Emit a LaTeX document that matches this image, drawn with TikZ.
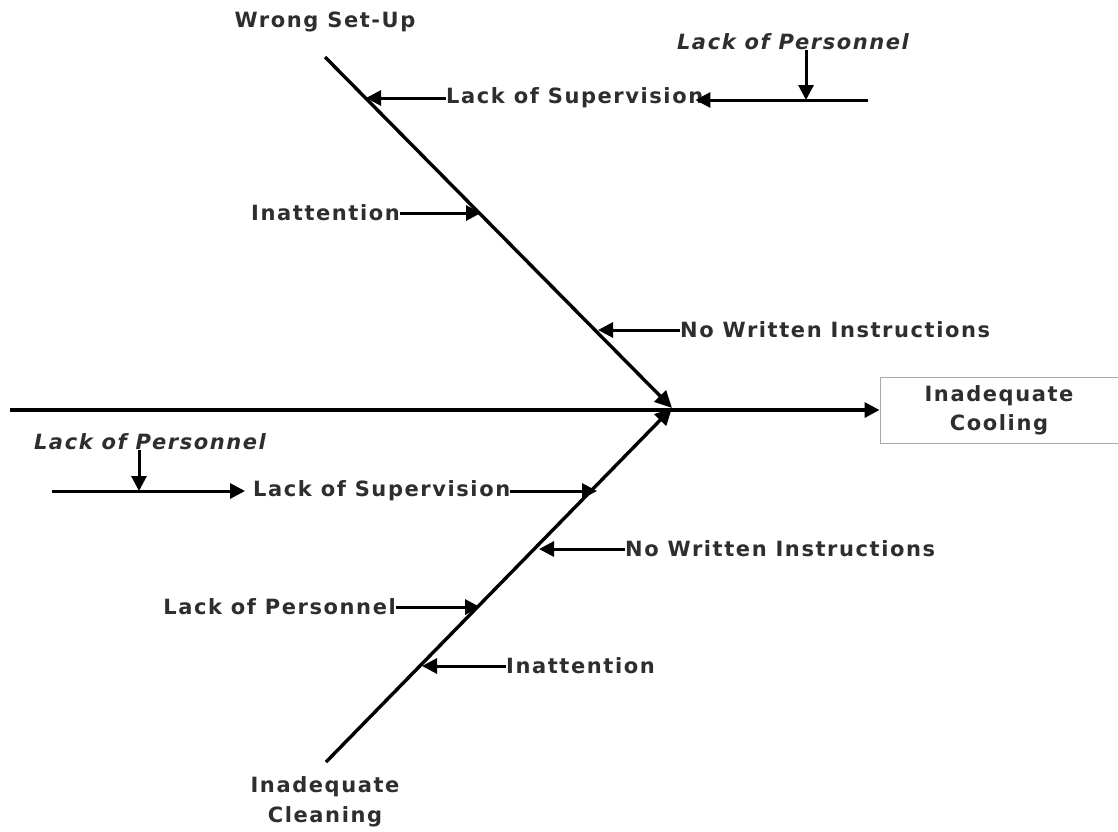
\documentclass[tikz,border=0pt]{standalone}
\usepackage{fontspec}
\setmainfont{DejaVu Sans}
\newfontfamily\lblfont{DejaVu Sans}[LetterSpace=7.5]
\usetikzlibrary{arrows.meta}
\definecolor{txt}{HTML}{2E2E2E}
\definecolor{boxline}{HTML}{A8A8A8}
\tikzset{
  lbl/.style={font=\lblfont\bfseries\fontsize{21}{25}\selectfont, text=txt, inner sep=0pt},
  ilbl/.style={font=\lblfont\bfseries\itshape\fontsize{21}{25}\selectfont, text=txt, inner sep=0pt},
  bone/.style={line width=3.4pt, line cap=butt},
  cause/.style={line width=3pt, -{Triangle[length=15pt,width=15pt]}},
}
\begin{document}
\begin{tikzpicture}[x=1pt,y=-1pt]
\useasboundingbox (0,0) rectangle (1118,831);
\fill[white] (0,0) rectangle (1118,831);

% spine and effect
\coordinate (j) at (672,408);
\coordinate (s0) at (10,410);
\node[draw=boxline, line width=1pt, minimum width=238pt, minimum height=66pt, align=center,
      font=\lblfont\bfseries\fontsize{21}{29}\selectfont, text=txt] (eff) at (999,410) {Inadequate\\Cooling};
\draw[cause, line width=3.4pt] (s0) -- (eff.west);

% upper category bone
\coordinate (ut) at (325,57);
\node[lbl] (ucat) at (325,22) {Wrong Set-Up};
\draw[bone, -{Triangle[length=17pt,width=16pt]}] (ut) -- (j);

% lower category bone
\coordinate (lt) at (326,762);
\node[lbl, align=center, font=\lblfont\bfseries\fontsize{21}{30}\selectfont] (lcat) at (325,802) {Inadequate\\Cleaning};
\draw[bone, -{Triangle[length=17pt,width=16pt]}] (lt) -- (j);

% points on the upper bone
\coordinate (u1) at (366,98);
\coordinate (u2) at (481,213);
\coordinate (u3) at (598,330);
% points on the lower bone
\coordinate (l1) at (597,491);
\coordinate (l2) at (539,549);
\coordinate (l3) at (480,607);
\coordinate (l4) at (422,666);

% upper causes
\node[lbl, anchor=west] (us) at (446,98) {Lack of Supervision};
\draw[cause] (us.west) -- (u1);
\coordinate (use) at (868,100);
\draw[cause] (use) -- ([xshift=-8pt]us.east |- use);
\node[ilbl] (up) at (793,42) {Lack of Personnel};
\coordinate (upl) at (806,100);
\draw[cause] (up.south -| upl) -- (upl);

\node[lbl, anchor=east] (ui) at (400,213) {Inattention};
\draw[cause] (ui.east) -- (u2);

\node[lbl, anchor=west] (uw) at (680,330) {No Written Instructions};
\draw[cause] (uw.west) -- (u3);

% lower causes
\node[ilbl] (lp) at (150,442) {Lack of Personnel};
\coordinate (lss) at (52,491);
\node[lbl, anchor=west] (ls) at (253,491) {Lack of Supervision};
\draw[cause] (lss) -- ([xshift=-8pt]ls.west);
\coordinate (lpl) at (139,491);
\draw[cause] (lp.south -| lpl) -- (lpl);
\draw[cause] (ls.east) -- (l1);

\node[lbl, anchor=west] (lw) at (625,549) {No Written Instructions};
\draw[cause] (lw.west) -- (l2);

\node[lbl, anchor=east] (lpe) at (396,607) {Lack of Personnel};
\draw[cause] (lpe.east) -- (l3);

\node[lbl, anchor=west] (li) at (506,666) {Inattention};
\draw[cause] (li.west) -- (l4);
\end{tikzpicture}
\end{document}
